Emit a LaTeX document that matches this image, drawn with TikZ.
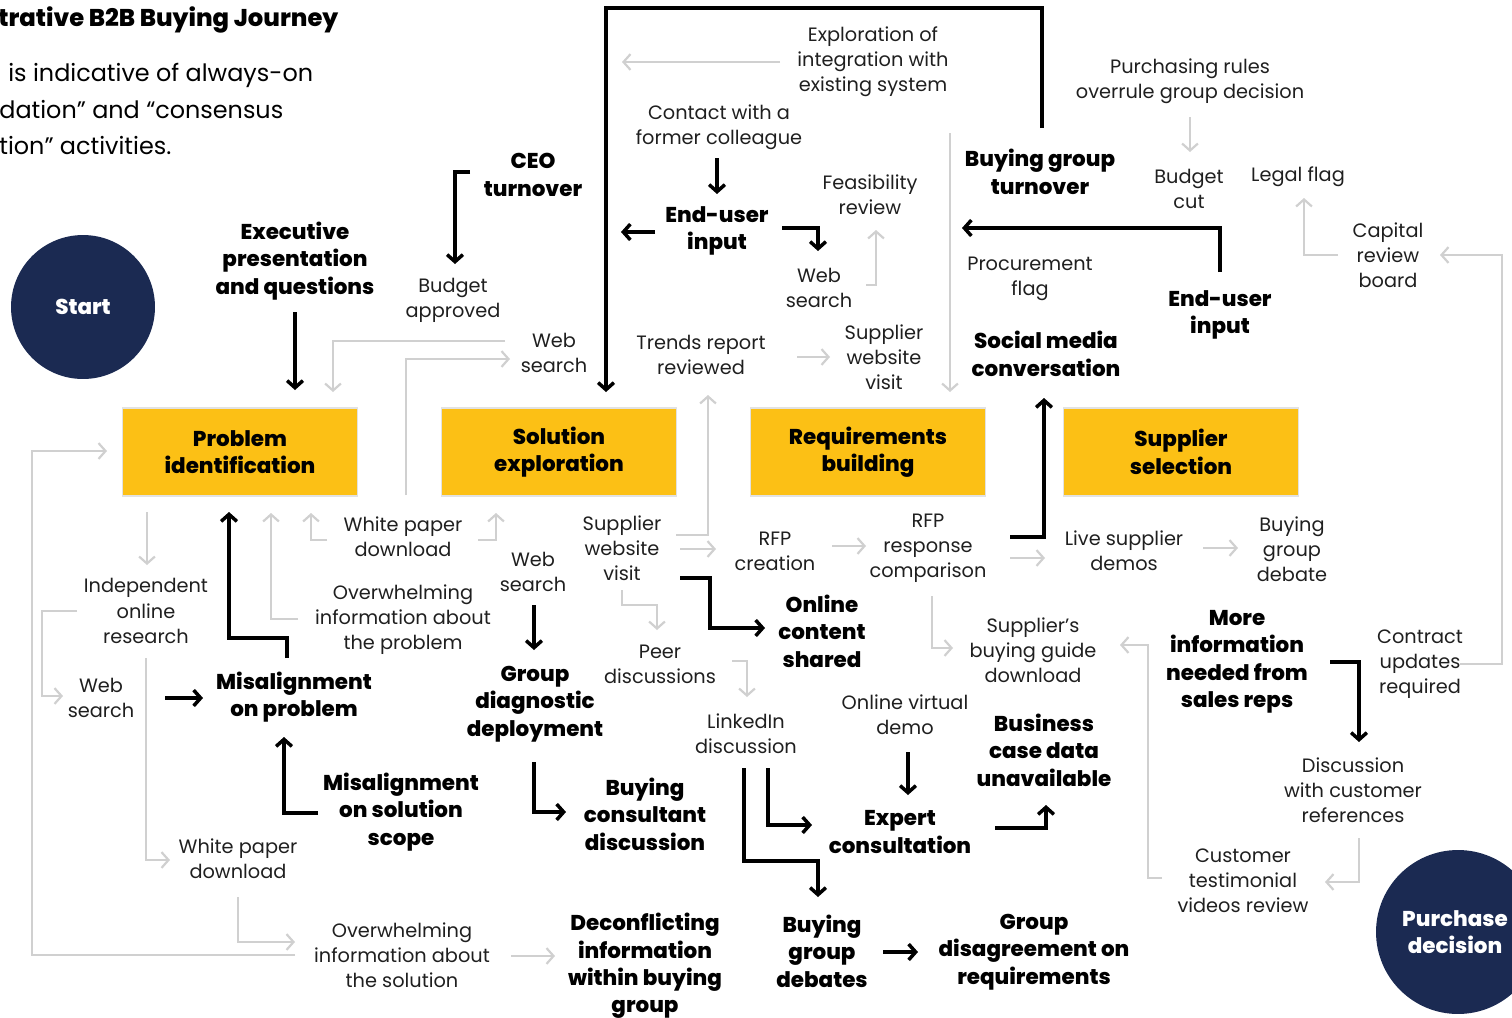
\documentclass[tikz,border=0pt]{standalone}
\usepackage{fontspec}
\setmainfont{Poppins}[BoldFont={Poppins ExtraBold}]
\usetikzlibrary{arrows.meta}
\definecolor{navy}{HTML}{1B2A52}
\definecolor{stageyellow}{HTML}{FCC015}
\definecolor{boxline}{HTML}{E2E2E2}
\definecolor{arrowgrey}{HTML}{D0D0D0}
\definecolor{labelgrey}{HTML}{1F1F1F}
\tikzset{
  stage/.style={rectangle, fill=stageyellow, draw=boxline, line width=0.6pt, minimum width=4.7cm, minimum height=1.76cm, align=center, font=\bfseries\fontsize{12.2}{15.6}\selectfont},
  bk/.style={align=center, inner sep=0pt, font=\bfseries\fontsize{12.2}{15.6}\selectfont},
  gy/.style={align=center, inner sep=0pt, text=labelgrey, font=\fontsize{11}{14.3}\selectfont},
  endpoint/.style={circle, fill=navy, text=white, inner sep=0pt, align=center, font=\bfseries\fontsize{12.2}{15.6}\selectfont},
  blk/.style={line width=2pt, -{Straight Barb[length=4pt,width=9pt]}},
  gry/.style={draw=arrowgrey, line width=1.25pt, -{Straight Barb[length=4pt,width=9pt]}}
}
\begin{document}
\begin{tikzpicture}[x=0.02cm, y=-0.02cm]
\useasboundingbox (0,0) rectangle (1512,1018);

\node[anchor=west, inner sep=0pt, font=\bfseries\fontsize{13.8}{17}\selectfont] (title) at (-2,20) {trative B2B Buying Journey};
\node[anchor=west, inner sep=0pt, font=\fontsize{13.6}{18}\selectfont] (sub1) at (8,75) {is indicative of always-on};
\node[anchor=west, inner sep=0pt, font=\fontsize{13.6}{18}\selectfont] (sub2) at (-1,110) {dation” and “consensus};
\node[anchor=west, inner sep=0pt, font=\fontsize{13.6}{18}\selectfont] (sub3) at (-1,146) {tion” activities.};

\node[endpoint, minimum size=2.88cm] (start) at (83,307) {Start};
\node[endpoint, minimum size=3.28cm] (purchase) at (1458,932) {};
\node[bk, text=white] (purchasetext) at (1455,932) {Purchase\\decision};

\node[stage] (probid) at (240,452) {Problem\\identification};
\node[stage] (solexp) at (559,452) {Solution\\exploration};
\node[stage] (reqbld) at (868,452) {Requirements\\building};
\node[stage] (supsel) at (1181,452) {Supplier\\selection};

\node[bk] (exec) at (295,261) {Executive\\presentation\\and questions};
\node[bk] (ceo) at (533,175) {CEO\\turnover};
\node[bk] (eui1) at (717,231) {End-user\\input};
\node[bk] (bgturn) at (1040,172) {Buying group\\turnover};
\node[bk] (eui2) at (1220,315) {End-user\\input};
\node[bk] (social) at (1046,354) {Social media\\conversation};
\node[bk] (misprob) at (294,697) {Misalignment\\on problem};
\node[bk] (missol) at (401,812) {Misalignment\\on solution\\scope};
\node[bk] (groupdiag) at (535,704) {Group\\diagnostic\\deployment};
\node[bk] (online) at (822,631) {Online\\content\\shared};
\node[bk] (consult) at (645,814) {Buying\\consultant\\discussion};
\node[bk] (expert) at (900,832) {Expert\\consultation};
\node[bk] (bizcase) at (1044,750) {Business\\case data\\unavailable};
\node[bk] (moreinfo) at (1237,662) {More\\information\\needed from\\sales reps};
\node[bk] (deconf) at (645,966) {Deconflicting\\information\\within buying\\group};
\node[bk] (bgdebates) at (822,951) {Buying\\group\\debates};
\node[bk] (disagree) at (1034,952) {Group\\disagreement on\\requirements};

\node[gy] (explor) at (873,62) {Exploration of\\integration with\\existing system};
\node[gy] (contact) at (719,127) {Contact with a\\former colleague};
\node[gy] (feas) at (870,195) {Feasibility\\review};
\node[gy] (web2) at (819,288) {Web\\search};
\node[gy] (budgetok) at (453,300) {Budget\\approved};
\node[gy] (web1) at (554,353) {Web\\search};
\node[gy] (trends) at (701,355) {Trends report\\reviewed};
\node[gy] (supweb1) at (884,357) {Supplier\\website\\visit};
\node[gy] (procure) at (1030,279) {Procurement\\flag};
\node[gy] (rules) at (1190,81) {Purchasing rules\\overrule group decision};
\node[gy] (budgetcut) at (1189,189) {Budget\\cut};
\node[gy] (legal) at (1298,177) {Legal flag};
\node[gy] (capital) at (1388,255) {Capital\\review\\board};
\node[gy] (wp1) at (403,537) {White paper\\download};
\node[gy] (indep) at (146,611) {Independent\\online\\research};
\node[gy] (overprob) at (403,620) {Overwhelming\\information about\\the problem};
\node[gy] (web3) at (533,572) {Web\\search};
\node[gy] (supweb2) at (622,548) {Supplier\\website\\visit};
\node[gy] (rfp) at (775,551) {RFP\\creation};
\node[gy] (rfpresp) at (928,548) {RFP\\response\\comparison};
\node[gy] (livedemo) at (1124,551) {Live supplier\\demos};
\node[gy] (bgdebate) at (1292,549) {Buying\\group\\debate};
\node[gy] (web4) at (101,698) {Web\\search};
\node[gy] (peer) at (660,664) {Peer\\discussions};
\node[gy] (guide) at (1033,650) {Supplier’s\\buying guide\\download};
\node[gy] (virtual) at (905,715) {Online virtual\\demo};
\node[gy] (linkedin) at (746,734) {LinkedIn\\discussion};
\node[gy] (contract) at (1420,664) {Contract\\updates\\required};
\node[gy] (refs) at (1353,790) {Discussion\\with customer\\references};
\node[gy] (wp2) at (238,859) {White paper\\download};
\node[gy] (testim) at (1243,881) {Customer\\testimonial\\videos review};
\node[gy] (oversol) at (402,955) {Overwhelming\\information about\\the solution};

\draw[gry] ([shift={(-93,0)}]explor.center) -- ([shift={(-251,0)}]explor.center);
\draw[gry] ([shift={(47,-3)}]web2.center) -| ([shift={(6,35)}]feas.center);
\draw[gry] ([shift={(-90,-39)}]bgturn.center) -- ([shift={(82,-60)}]reqbld.center);
\draw[gry] ([shift={(0,36)}]rules.center) -- ([shift={(1,-37)}]budgetcut.center);
\draw[gry] ([shift={(-50,0)}]capital.center) -| ([shift={(6,21)}]legal.center);
\draw[gry] ([shift={(40,0)}]contract.center) -- ++(42,0) |- ([shift={(52,0)}]capital.center);
\draw[gry] ([shift={(-49,-12)}]web1.center) -| ([shift={(93,-60)}]probid.center);
\draw[gry] ([shift={(3,-42)}]wp1.center) |- ([shift={(-44,6)}]web1.center);
\draw[gry] ([shift={(54,-13)}]supweb2.center) -| ([shift={(7,40)}]trends.center);
\draw[gry] ([shift={(96,2)}]trends.center) -- ([shift={(-54,0)}]supweb1.center);
\draw[gry] ([shift={(-107,0)}]oversol.center) -- ++(-263,0) |- ([shift={(-133,-1)}]probid.center);
\draw[gry] ([shift={(-93,60)}]probid.center) -- ([shift={(1,-46)}]indep.center);
\draw[gry] ([shift={(-69,0)}]indep.center) -- ++(-35,0) |- ([shift={(-38,-2)}]web4.center);
\draw[gry] ([shift={(0,47)}]indep.center) |- ([shift={(-68,1)}]wp2.center);
\draw[gry] ([shift={(0,38)}]wp2.center) |- ([shift={(-107,-13)}]oversol.center);
\draw[gry] ([shift={(109,1)}]oversol.center) -- ([shift={(-90,-10)}]deconf.center);
\draw[gry] ([shift={(-105,-1)}]overprob.center) -| ([shift={(31,61)}]probid.center);
\draw[gry] ([shift={(-76,3)}]wp1.center) -| ([shift={(71,61)}]probid.center);
\draw[gry] ([shift={(75,3)}]wp1.center) -| ([shift={(-63,61)}]solexp.center);
\draw[gry] ([shift={(58,1)}]supweb2.center) -- ([shift={(-59,-2)}]rfp.center);
\draw[gry] ([shift={(0,42)}]supweb2.center) -- ++(0,15) -| ([shift={(-3,-34)}]peer.center);
\draw[gry] ([shift={(72,-3)}]peer.center) -| ([shift={(1,-37)}]linkedin.center);
\draw[gry] ([shift={(57,-5)}]rfp.center) -- ([shift={(-62,-2)}]rfpresp.center);
\draw[gry] ([shift={(4,48)}]rfpresp.center) |- ([shift={(-80,-2)}]guide.center);
\draw[gry] ([shift={(82,10)}]rfpresp.center) -- ([shift={(-79,7)}]livedemo.center);
\draw[gry] ([shift={(79,-3)}]livedemo.center) -- ([shift={(-54,-1)}]bgdebate.center);
\draw[gry] ([shift={(-81,-3)}]testim.center) -- ++(-14,0) |- ([shift={(87,-5)}]guide.center);
\draw[gry] ([shift={(6,48)}]refs.center) |- ([shift={(82,1)}]testim.center);

\draw[blk] ([shift={(0,51)}]exec.center) -- ([shift={(55,-62)}]probid.center);
\draw[blk] ([shift={(-63,-3)}]ceo.center) -| ([shift={(2,-36)}]budgetok.center);
\draw[blk] ([shift={(2,-44)}]bgturn.center) -- ++(0,-120) -| ([shift={(47,-60)}]solexp.center);
\draw[blk] ([shift={(-2,31)}]contact.center) -- ([shift={(0,-37)}]eui1.center);
\draw[blk] ([shift={(-62,1)}]eui1.center) -- ([shift={(-96,1)}]eui1.center);
\draw[blk] ([shift={(65,-3)}]eui1.center) -| ([shift={(-1,-37)}]web2.center);
\draw[blk] ([shift={(0,-43)}]eui2.center) |- ([shift={(-78,56)}]bgturn.center);
\draw[blk] ([shift={(82,-11)}]rfpresp.center) -| ([shift={(-2,44)}]social.center);
\draw[blk] ([shift={(-7,-39)}]misprob.center) -- ++(0,-20) -| ([shift={(-11,60)}]probid.center);
\draw[blk] ([shift={(64,0)}]web4.center) -- ([shift={(-91,1)}]misprob.center);
\draw[blk] ([shift={(-83,1)}]missol.center) -| ([shift={(-10,40)}]misprob.center);
\draw[blk] ([shift={(1,33)}]web3.center) -- ([shift={(-1,-54)}]groupdiag.center);
\draw[blk] ([shift={(58,30)}]supweb2.center) -- ++(30,0) |- ([shift={(-57,-3)}]online.center);
\draw[blk] ([shift={(-1,58)}]groupdiag.center) |- ([shift={(-79,-2)}]consult.center);
\draw[blk] ([shift={(22,34)}]linkedin.center) |- ([shift={(-88,-7)}]expert.center);
\draw[blk] ([shift={(-2,34)}]linkedin.center) -- ++(0,93) -| ([shift={(-4,-54)}]bgdebates.center);
\draw[blk] ([shift={(3,37)}]virtual.center) -- ([shift={(8,-37)}]expert.center);
\draw[blk] ([shift={(95,-4)}]expert.center) -| ([shift={(2,55)}]bizcase.center);
\draw[blk] ([shift={(61,1)}]bgdebates.center) -- ([shift={(-116,0)}]disagree.center);
\draw[blk] ([shift={(93,0)}]moreinfo.center) -| ([shift={(6,-48)}]refs.center);
\end{tikzpicture}
\end{document}
